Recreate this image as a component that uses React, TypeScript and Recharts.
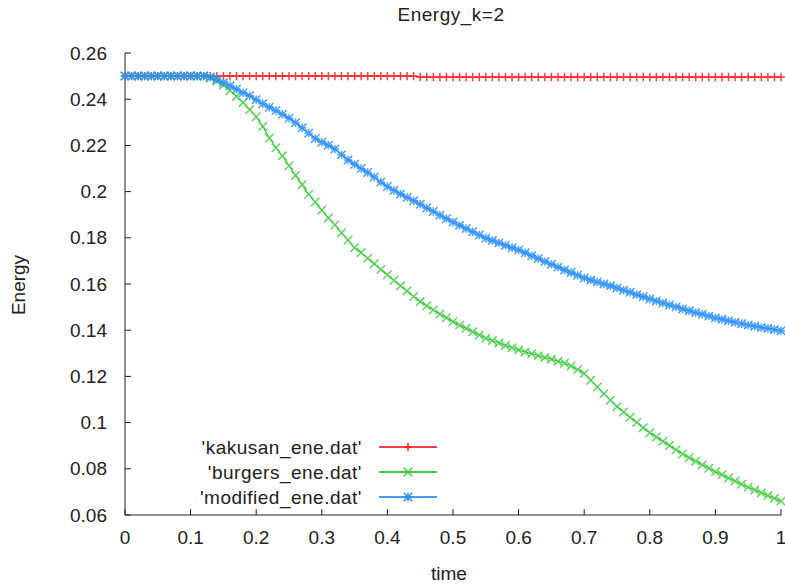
import React from 'react';
import { LineChart, Line, XAxis, YAxis } from 'recharts';

const time = [
  0, 0.01, 0.02, 0.03, 0.04, 0.05, 0.06, 0.07, 0.08, 0.09,
  0.1, 0.11, 0.12, 0.13, 0.14, 0.15, 0.16, 0.17, 0.18, 0.19,
  0.2, 0.21, 0.22, 0.23, 0.24, 0.25, 0.26, 0.27, 0.28, 0.29,
  0.3, 0.31, 0.32, 0.33, 0.34, 0.35, 0.36, 0.37, 0.38, 0.39,
  0.4, 0.41, 0.42, 0.43, 0.44, 0.45, 0.46, 0.47, 0.48, 0.49,
  0.5, 0.51, 0.52, 0.53, 0.54, 0.55, 0.56, 0.57, 0.58, 0.59,
  0.6, 0.61, 0.62, 0.63, 0.64, 0.65, 0.66, 0.67, 0.68, 0.69,
  0.7, 0.71, 0.72, 0.73, 0.74, 0.75, 0.76, 0.77, 0.78, 0.79,
  0.8, 0.81, 0.82, 0.83, 0.84, 0.85, 0.86, 0.87, 0.88, 0.89,
  0.9, 0.91, 0.92, 0.93, 0.94, 0.95, 0.96, 0.97, 0.98, 0.99,
  1.0,
];

const kakusan = [
  0.25, 0.25, 0.25, 0.25, 0.25, 0.25, 0.25, 0.25, 0.25, 0.25,
  0.25, 0.25, 0.25, 0.25, 0.25, 0.25, 0.25, 0.25, 0.25, 0.25,
  0.25, 0.25, 0.25, 0.25, 0.25, 0.25, 0.25, 0.25, 0.25, 0.25,
  0.25, 0.25, 0.25, 0.25, 0.25, 0.25, 0.25, 0.25, 0.25, 0.25,
  0.25, 0.25, 0.25, 0.25, 0.25, 0.2496, 0.2496, 0.2496, 0.2496, 0.2496,
  0.2496, 0.2496, 0.2496, 0.2496, 0.2496, 0.2496, 0.2496, 0.2496, 0.2496, 0.2496,
  0.2496, 0.2496, 0.2496, 0.2496, 0.2496, 0.2496, 0.2496, 0.2496, 0.2496, 0.2496,
  0.2496, 0.2496, 0.2496, 0.2496, 0.2496, 0.2496, 0.2496, 0.2496, 0.2496, 0.2496,
  0.2496, 0.2496, 0.2496, 0.2496, 0.2496, 0.2496, 0.2496, 0.2496, 0.2496, 0.2496,
  0.2496, 0.2496, 0.2496, 0.2496, 0.2496, 0.2496, 0.2496, 0.2496, 0.2496, 0.2496,
  0.2496,
];

const burgers = [
  0.25, 0.25, 0.25, 0.25, 0.25, 0.25, 0.25, 0.25, 0.25, 0.25,
  0.25, 0.25, 0.25, 0.2492, 0.2478, 0.2461, 0.2438, 0.2412, 0.2385, 0.2355,
  0.2324, 0.2282, 0.2232, 0.2190, 0.2155, 0.2112, 0.2070, 0.2030, 0.1988, 0.1955,
  0.1920, 0.1886, 0.1856, 0.1822, 0.1790, 0.1757, 0.1736, 0.1711, 0.1688, 0.1663,
  0.1640, 0.1616, 0.1592, 0.1570, 0.1546, 0.1524, 0.1506, 0.1488, 0.1470, 0.1454,
  0.1437, 0.1422, 0.1408, 0.1393, 0.1379, 0.1365, 0.1355, 0.1345, 0.1334, 0.1324,
  0.1314, 0.1306, 0.1298, 0.1290, 0.1282, 0.1274, 0.1266, 0.1257, 0.1245, 0.1230,
  0.1213, 0.1183, 0.1154, 0.1125, 0.1097, 0.1069, 0.1046, 0.1023, 0.1001, 0.0978,
  0.0956, 0.0938, 0.0919, 0.0901, 0.0882, 0.0864, 0.0848, 0.0833, 0.0817, 0.0802,
  0.0787, 0.0774, 0.0760, 0.0747, 0.0733, 0.0720, 0.0708, 0.0696, 0.0684, 0.0672,
  0.0660,
];

const modified = [
  0.25, 0.25, 0.25, 0.25, 0.25, 0.25, 0.25, 0.25, 0.25, 0.25,
  0.25, 0.25, 0.25, 0.2496, 0.2486, 0.2472, 0.2458, 0.2443, 0.2428, 0.2415,
  0.2398, 0.2380, 0.2365, 0.2351, 0.2335, 0.2318, 0.2298, 0.2276, 0.2253, 0.2230,
  0.2214, 0.2201, 0.2184, 0.2160, 0.2137, 0.2118, 0.2100, 0.2083, 0.2063, 0.2041,
  0.2022, 0.2005, 0.1990, 0.1975, 0.1960, 0.1945, 0.1929, 0.1914, 0.1898, 0.1883,
  0.1868, 0.1854, 0.1840, 0.1826, 0.1812, 0.1798, 0.1788, 0.1778, 0.1767, 0.1757,
  0.1747, 0.1735, 0.1722, 0.1710, 0.1697, 0.1685, 0.1673, 0.1661, 0.1650, 0.1638,
  0.1626, 0.1617, 0.1609, 0.1600, 0.1592, 0.1583, 0.1573, 0.1564, 0.1554, 0.1545,
  0.1535, 0.1526, 0.1518, 0.1509, 0.1501, 0.1492, 0.1484, 0.1476, 0.1469, 0.1461,
  0.1453, 0.1447, 0.1441, 0.1434, 0.1428, 0.1422, 0.1417, 0.1412, 0.1408, 0.1403,
  0.1398,
];

const xTicks = [0, 0.1, 0.2, 0.3, 0.4, 0.5, 0.6, 0.7, 0.8, 0.9, 1];
const yTicks = [0.06, 0.08, 0.1, 0.12, 0.14, 0.16, 0.18, 0.2, 0.22, 0.24, 0.26];

const seriesKeys = ['kakusan', 'burgers', 'modified'];
const seriesNames = ["'kakusan_ene.dat'", "'burgers_ene.dat'", "'modified_ene.dat'"];
const seriesColors = ['#ff0000', '#00c000', '#0080ff'];
const markerColors = ['#ff2020', '#44cc44', '#2a8fff'];
const seriesMarkers = ['plus', 'cross', 'star'];

const title = 'Energy_k=2';
const xLabel = 'time';
const yLabel = 'Energy';

const data = time.map((t, i) => ({
  t,
  kakusan: kakusan[i],
  burgers: burgers[i],
  modified: modified[i],
}));

const FONT = '"Liberation Sans", Arial, sans-serif';
const TEXT = '#222';
const FRAME = '#222';

function markerPath(kind: string, cx: number, cy: number, r: number) {
  const plus = `M${cx - r},${cy}H${cx + r}M${cx},${cy - r}V${cy + r}`;
  const cross = `M${cx - r},${cy - r}L${cx + r},${cy + r}M${cx - r},${cy + r}L${cx + r},${cy - r}`;
  if (kind === 'plus') return plus;
  if (kind === 'cross') return cross;
  return plus + cross;
}

const makeDot = (kind: string, color: string) => (props: any) => {
  const { cx, cy, index } = props;
  if (cx == null || cy == null) return <g key={`${kind}-${index}`} />;
  return (
    <path
      key={`${kind}-${index}`}
      d={markerPath(kind, cx, cy, 4.2)}
      stroke={color}
      strokeOpacity={0.85}
      strokeWidth={1.5}
      fill="none"
    />
  );
};

const fmtX = (v: number) => String(+v.toFixed(1));
const fmtY = (v: number) => String(+v.toFixed(2));

const BottomTick = (props: any) => {
  const { x, y, payload } = props;
  return (
    <g>
      <line x1={x} y1={y} x2={x} y2={y - 6} stroke={FRAME} strokeWidth={1} />
      <text x={x} y={y + 29} textAnchor="middle" fontFamily={FONT} fontSize={19} fill={TEXT}>
        {fmtX(payload.value)}
      </text>
    </g>
  );
};

const TopTick = (props: any) => {
  const { x, y } = props;
  return <line x1={x} y1={y} x2={x} y2={y + 6} stroke={FRAME} strokeWidth={1} />;
};

const LeftTick = (props: any) => {
  const { x, y, payload } = props;
  return (
    <g>
      <line x1={x} y1={y} x2={x + 6} y2={y} stroke={FRAME} strokeWidth={1} />
      <text x={x - 18} y={y + 6.5} textAnchor="end" fontFamily={FONT} fontSize={19} fill={TEXT}>
        {fmtY(payload.value)}
      </text>
    </g>
  );
};

const RightTick = (props: any) => {
  const { x, y } = props;
  return <line x1={x} y1={y} x2={x - 6} y2={y} stroke={FRAME} strokeWidth={1} />;
};

export default function App() {
  return (
    <div style={{ position: 'absolute', left: 0, top: 0, width: 785, height: 585, background: '#fff' }}>
      <LineChart
        width={785}
        height={585}
        data={data}
        margin={{ top: 53, right: 4, bottom: 0, left: 0 }}
      >
        <XAxis
          xAxisId="b"
          dataKey="t"
          type="number"
          domain={[0, 1]}
          ticks={xTicks}
          interval={0}
          height={70}
          tickSize={0}
          tickMargin={0}
          tickLine={false}
          axisLine={{ stroke: FRAME, strokeWidth: 1 }}
          tick={<BottomTick />}
        />
        <XAxis
          xAxisId="t"
          orientation="top"
          dataKey="t"
          type="number"
          domain={[0, 1]}
          ticks={xTicks}
          interval={0}
          height={0}
          tickSize={0}
          tickMargin={0}
          tickLine={false}
          axisLine={{ stroke: FRAME, strokeWidth: 1 }}
          tick={<TopTick />}
        />
        <YAxis
          yAxisId="l"
          type="number"
          domain={[0.06, 0.26]}
          ticks={yTicks}
          interval={0}
          width={125}
          tickSize={0}
          tickMargin={0}
          tickLine={false}
          axisLine={{ stroke: FRAME, strokeWidth: 1 }}
          tick={<LeftTick />}
        />
        <YAxis
          yAxisId="r"
          orientation="right"
          type="number"
          domain={[0.06, 0.26]}
          ticks={yTicks}
          interval={0}
          width={0}
          tickSize={0}
          tickMargin={0}
          tickLine={false}
          axisLine={{ stroke: FRAME, strokeWidth: 1 }}
          tick={<RightTick />}
        />
        {seriesKeys.map((k, i) => (
          <Line
            key={k}
            xAxisId="b"
            yAxisId="l"
            type="linear"
            dataKey={k}
            name={seriesNames[i]}
            stroke={seriesColors[i]}
            strokeWidth={1}
            dot={makeDot(seriesMarkers[i], markerColors[i])}
            activeDot={false}
            isAnimationActive={false}
          />
        ))}
        <Line
          xAxisId="t"
          yAxisId="r"
          dataKey="kakusan"
          stroke="none"
          dot={false}
          activeDot={false}
          legendType="none"
          isAnimationActive={false}
        />
      </LineChart>
      <svg
        width={785}
        height={585}
        style={{ position: 'absolute', left: 0, top: 0, pointerEvents: 'none' }}
      >
        <text x={451} y={21} textAnchor="middle" fontFamily={FONT} fontSize={19} letterSpacing={0.5} fill={TEXT}>
          {title}
        </text>
        <text x={449} y={580} textAnchor="middle" fontFamily={FONT} fontSize={19} fill={TEXT}>
          {xLabel}
        </text>
        <text
          x={0}
          y={0}
          transform="translate(25,285) rotate(-90)"
          textAnchor="middle"
          fontFamily={FONT}
          fontSize={19}
          fill={TEXT}
        >
          {yLabel}
        </text>
        {seriesNames.map((name, i) => {
          const rowY = 447 + i * 25;
          return (
            <g key={name}>
              <text x={362} y={rowY + 6.5} textAnchor="end" fontFamily={FONT} fontSize={19} letterSpacing={0.5} fill={TEXT}>
                {name}
              </text>
              <line x1={379} y1={rowY} x2={437} y2={rowY} stroke={seriesColors[i]} strokeWidth={1.5} />
              <path d={markerPath(seriesMarkers[i], 408, rowY, 4.2)} stroke={markerColors[i]} strokeWidth={1.5} fill="none" />
            </g>
          );
        })}
      </svg>
    </div>
  );
}
